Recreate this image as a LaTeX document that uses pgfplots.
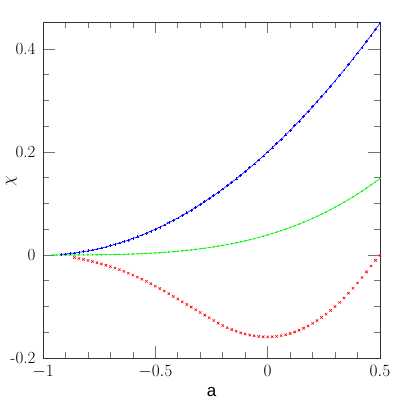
\documentclass[border=0pt]{standalone}
\usepackage{pgfplots}
\pgfplotsset{compat=1.18}
\usepackage{pgfplotstable}
\usepackage{fontspec}
\newfontfamily\hel{Liberation Sans}
\usetikzlibrary{calc}

\definecolor{cblue}{RGB}{0,0,255}
\definecolor{cgreen}{RGB}{0,245,0}
\definecolor{cred}{RGB}{255,0,0}

% chi(a) for the three series
\pgfplotstableread{
a chi
-0.92 0.0013
-0.90 0.0020
-0.88 0.0029
-0.86 0.0039
-0.84 0.0051
-0.82 0.0065
-0.80 0.0080
-0.78 0.0097
-0.76 0.0115
-0.74 0.0135
-0.72 0.0157
-0.70 0.0180
-0.68 0.0205
-0.66 0.0231
-0.64 0.0259
-0.62 0.0289
-0.60 0.0320
-0.58 0.0353
-0.56 0.0387
-0.54 0.0423
-0.52 0.0461
-0.50 0.0500
-0.48 0.0541
-0.46 0.0583
-0.44 0.0627
-0.42 0.0673
-0.40 0.0720
-0.38 0.0769
-0.36 0.0819
-0.34 0.0871
-0.32 0.0925
-0.30 0.0980
-0.28 0.1037
-0.26 0.1095
-0.24 0.1155
-0.22 0.1217
-0.20 0.1280
-0.18 0.1345
-0.16 0.1411
-0.14 0.1479
-0.12 0.1549
-0.10 0.1620
-0.08 0.1693
-0.06 0.1767
-0.04 0.1843
-0.02 0.1921
0.00 0.2000
0.02 0.2081
0.04 0.2163
0.06 0.2247
0.08 0.2333
0.10 0.2420
0.12 0.2509
0.14 0.2599
0.16 0.2691
0.18 0.2785
0.20 0.2880
0.22 0.2977
0.24 0.3075
0.26 0.3175
0.28 0.3277
0.30 0.3380
0.32 0.3485
0.34 0.3591
0.36 0.3699
0.38 0.3809
0.40 0.3920
0.42 0.4033
0.44 0.4147
0.46 0.4263
0.48 0.4381
0.50 0.4500
}\bluedata

\pgfplotstableread{
a chi
-0.96 0.0000
-0.94 0.0000
-0.92 0.0000
-0.90 0.0000
-0.88 0.0000
-0.86 0.0000
-0.84 0.0001
-0.82 0.0001
-0.80 0.0002
-0.78 0.0003
-0.76 0.0004
-0.74 0.0005
-0.72 0.0006
-0.70 0.0007
-0.68 0.0009
-0.66 0.0011
-0.64 0.0013
-0.62 0.0016
-0.60 0.0019
-0.58 0.0022
-0.56 0.0026
-0.54 0.0030
-0.52 0.0035
-0.50 0.0040
-0.48 0.0045
-0.46 0.0051
-0.44 0.0057
-0.42 0.0064
-0.40 0.0072
-0.38 0.0080
-0.36 0.0089
-0.34 0.0098
-0.32 0.0109
-0.30 0.0120
-0.28 0.0132
-0.26 0.0144
-0.24 0.0158
-0.22 0.0172
-0.20 0.0187
-0.18 0.0203
-0.16 0.0220
-0.14 0.0237
-0.12 0.0256
-0.10 0.0275
-0.08 0.0296
-0.06 0.0317
-0.04 0.0340
-0.02 0.0364
0.00 0.0390
0.02 0.0416
0.04 0.0443
0.06 0.0472
0.08 0.0502
0.10 0.0534
0.12 0.0566
0.14 0.0600
0.16 0.0635
0.18 0.0672
0.20 0.0712
0.22 0.0752
0.24 0.0793
0.26 0.0836
0.28 0.0881
0.30 0.0927
0.32 0.0975
0.34 0.1024
0.36 0.1075
0.38 0.1128
0.40 0.1184
0.42 0.1240
0.44 0.1298
0.46 0.1359
0.48 0.1422
0.50 0.1487
}\greendata

\pgfplotstableread{
a chi
-0.86 -0.0050
-0.84 -0.0068
-0.82 -0.0087
-0.80 -0.0107
-0.78 -0.0128
-0.76 -0.0150
-0.74 -0.0174
-0.72 -0.0199
-0.70 -0.0225
-0.68 -0.0254
-0.66 -0.0285
-0.64 -0.0318
-0.62 -0.0353
-0.60 -0.0390
-0.58 -0.0429
-0.56 -0.0470
-0.54 -0.0513
-0.52 -0.0558
-0.50 -0.0604
-0.48 -0.0651
-0.46 -0.0700
-0.44 -0.0752
-0.42 -0.0804
-0.40 -0.0856
-0.38 -0.0908
-0.36 -0.0960
-0.34 -0.1012
-0.32 -0.1064
-0.30 -0.1116
-0.28 -0.1168
-0.26 -0.1220
-0.24 -0.1273
-0.22 -0.1324
-0.20 -0.1370
-0.18 -0.1412
-0.16 -0.1449
-0.14 -0.1482
-0.12 -0.1511
-0.10 -0.1535
-0.08 -0.1555
-0.06 -0.1570
-0.04 -0.1581
-0.02 -0.1588
0.00 -0.1590
0.02 -0.1587
0.04 -0.1580
0.06 -0.1566
0.08 -0.1548
0.10 -0.1525
0.12 -0.1496
0.14 -0.1462
0.16 -0.1423
0.18 -0.1378
0.20 -0.1328
0.22 -0.1273
0.24 -0.1213
0.26 -0.1148
0.28 -0.1077
0.30 -0.1001
0.32 -0.0920
0.34 -0.0834
0.36 -0.0742
0.38 -0.0646
0.40 -0.0544
0.42 -0.0438
0.44 -0.0328
0.46 -0.0214
0.48 -0.0105
0.50 -0.0010
}\reddata

\begin{document}
\begin{tikzpicture}
  \begin{axis}[
      scale only axis,
      width=337pt, height=336pt,
      xmin=-1, xmax=0.5,
      ymin=-0.2, ymax=0.4524,
      clip=false,
      xtick={-1,-0.5,0,0.5},
      ytick={-0.2,0,0.2,0.4},
      yticklabels={-0.2,0,0.2,0.4},
      minor x tick num=4,
      minor y tick num=3,
      tick align=inside,
      xtick pos=both, ytick pos=both,
      major tick length=11.5pt,
      minor tick length=6pt,
      axis line style={black!80, line width=0.7pt},
      every tick/.style={black!55, line width=0.7pt},
      ticklabel style={font=\fontsize{17}{20}\selectfont},
      yticklabel style={xshift=-4pt},
      xticklabel style={yshift=-4pt},
      xlabel={\hel a},
      ylabel={$\chi$},
      label style={font=\fontsize{17}{20}\selectfont},
      xlabel style={at={(axis description cs:0.5,0)}, anchor=base, yshift=-39pt},
      ylabel style={at={(axis description cs:-0.094,0.527)}, anchor=center},
    ]
    \addplot[cgreen, line width=0.6pt, mark=*, mark size=0.5pt] table[x=a, y=chi] {\greendata};
    \addplot[cblue, line width=0.6pt, mark=+, mark size=1.4pt] table[x=a, y=chi] {\bluedata};
    \addplot[cred, only marks, mark=x, mark size=1.7pt, line width=0.6pt] table[x=a, y=chi] {\reddata};
  \end{axis}
  \pgfresetboundingbox
  \path[use as bounding box] ($(current axis.south west)+(-43pt,-44pt)$) rectangle ($(current axis.north east)+(22pt,22pt)$);
\end{tikzpicture}
\end{document}
